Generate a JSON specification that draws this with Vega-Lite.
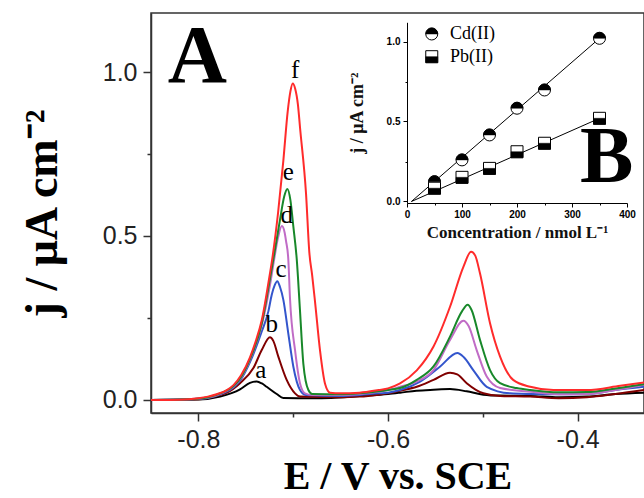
{
  "$schema": "https://vega.github.io/schema/vega-lite/v6.json",
  "width": 493,
  "height": 400,
  "autosize": "none",
  "padding": {"left": 151, "top": 13, "right": 0, "bottom": 85},
  "background": "white",
  "config": {"view": {"stroke": "#333333", "strokeWidth": 1.5}},
  "datasets": {
    "curves": [
      {"s":"a","E":-0.85,"j":0.0},{"s":"a","E":-0.80,"j":0.001},{"s":"a","E":-0.777,"j":0.01},{"s":"a","E":-0.7561,"j":0.032},{"s":"a","E":-0.7456,"j":0.052},{"s":"a","E":-0.7385,"j":0.056},{"s":"a","E":-0.733,"j":0.05},{"s":"a","E":-0.728,"j":0.04},{"s":"a","E":-0.7174,"j":0.018},{"s":"a","E":-0.7104,"j":0.006},{"s":"a","E":-0.68,"j":0.005},{"s":"a","E":-0.66,"j":0.006},{"s":"a","E":-0.63,"j":0.012},{"s":"a","E":-0.6,"j":0.018},{"s":"a","E":-0.5873,"j":0.022},{"s":"a","E":-0.57,"j":0.028},{"s":"a","E":-0.552,"j":0.031},{"s":"a","E":-0.5346,"j":0.033},{"s":"a","E":-0.517,"j":0.026},{"s":"a","E":-0.4994,"j":0.016},{"s":"a","E":-0.4818,"j":0.013},{"s":"a","E":-0.45,"j":0.012},{"s":"a","E":-0.42,"j":0.008},{"s":"a","E":-0.39,"j":0.01},{"s":"a","E":-0.36,"j":0.018},{"s":"a","E":-0.33,"j":0.022},
      {"s":"b","E":-0.85,"j":0.0},{"s":"b","E":-0.80,"j":0.002},{"s":"b","E":-0.7772,"j":0.015},{"s":"b","E":-0.77,"j":0.022},{"s":"b","E":-0.7561,"j":0.051},{"s":"b","E":-0.742,"j":0.097},{"s":"b","E":-0.7332,"j":0.152},{"s":"b","E":-0.7245,"j":0.191},{"s":"b","E":-0.721,"j":0.18},{"s":"b","E":-0.7157,"j":0.132},{"s":"b","E":-0.7069,"j":0.061},{"s":"b","E":-0.6981,"j":0.02},{"s":"b","E":-0.6928,"j":0.01},{"s":"b","E":-0.65,"j":0.008},{"s":"b","E":-0.63,"j":0.01},{"s":"b","E":-0.61,"j":0.016},{"s":"b","E":-0.6,"j":0.02},{"s":"b","E":-0.5873,"j":0.028},{"s":"b","E":-0.5697,"j":0.04},{"s":"b","E":-0.552,"j":0.061},{"s":"b","E":-0.5346,"j":0.083},{"s":"b","E":-0.527,"j":0.078},{"s":"b","E":-0.517,"j":0.051},{"s":"b","E":-0.4994,"j":0.02},{"s":"b","E":-0.4818,"j":0.012},{"s":"b","E":-0.45,"j":0.01},{"s":"b","E":-0.42,"j":0.005},{"s":"b","E":-0.39,"j":0.008},{"s":"b","E":-0.36,"j":0.018},{"s":"b","E":-0.33,"j":0.03},
      {"s":"c","E":-0.85,"j":0.0},{"s":"c","E":-0.81,"j":0.002},{"s":"c","E":-0.79,"j":0.006},{"s":"c","E":-0.775,"j":0.019},{"s":"c","E":-0.763,"j":0.038},{"s":"c","E":-0.755,"j":0.063},{"s":"c","E":-0.7456,"j":0.115},{"s":"c","E":-0.733,"j":0.21},{"s":"c","E":-0.7262,"j":0.27},{"s":"c","E":-0.7227,"j":0.32},{"s":"c","E":-0.7195,"j":0.35},{"s":"c","E":-0.7168,"j":0.362},{"s":"c","E":-0.714,"j":0.345},{"s":"c","E":-0.7104,"j":0.305},{"s":"c","E":-0.7052,"j":0.203},{"s":"c","E":-0.6999,"j":0.102},{"s":"c","E":-0.6928,"j":0.03},{"s":"c","E":-0.6867,"j":0.015},{"s":"c","E":-0.65,"j":0.012},{"s":"c","E":-0.63,"j":0.015},{"s":"c","E":-0.61,"j":0.02},{"s":"c","E":-0.6,"j":0.022},{"s":"c","E":-0.5873,"j":0.03},{"s":"c","E":-0.5662,"j":0.056},{"s":"c","E":-0.545,"j":0.102},{"s":"c","E":-0.5269,"j":0.143},{"s":"c","E":-0.52,"j":0.13},{"s":"c","E":-0.5101,"j":0.091},{"s":"c","E":-0.4959,"j":0.04},{"s":"c","E":-0.4712,"j":0.02},{"s":"c","E":-0.45,"j":0.018},{"s":"c","E":-0.42,"j":0.017},{"s":"c","E":-0.39,"j":0.018},{"s":"c","E":-0.36,"j":0.03},{"s":"c","E":-0.33,"j":0.04},
      {"s":"d","E":-0.85,"j":0.0},{"s":"d","E":-0.81,"j":0.002},{"s":"d","E":-0.79,"j":0.007},{"s":"d","E":-0.775,"j":0.021},{"s":"d","E":-0.763,"j":0.041},{"s":"d","E":-0.755,"j":0.068},{"s":"d","E":-0.7456,"j":0.122},{"s":"d","E":-0.733,"j":0.23},{"s":"d","E":-0.7245,"j":0.35},{"s":"d","E":-0.72,"j":0.43},{"s":"d","E":-0.716,"j":0.495},{"s":"d","E":-0.712,"j":0.53},{"s":"d","E":-0.709,"j":0.51},{"s":"d","E":-0.7076,"j":0.485},{"s":"d","E":-0.7052,"j":0.43},{"s":"d","E":-0.7034,"j":0.31},{"s":"d","E":-0.698,"j":0.15},{"s":"d","E":-0.6928,"j":0.05},{"s":"d","E":-0.6876,"j":0.02},{"s":"d","E":-0.68,"j":0.015},{"s":"d","E":-0.65,"j":0.015},{"s":"d","E":-0.63,"j":0.018},{"s":"d","E":-0.61,"j":0.025},{"s":"d","E":-0.6,"j":0.03},{"s":"d","E":-0.5873,"j":0.04},{"s":"d","E":-0.5697,"j":0.056},{"s":"d","E":-0.552,"j":0.091},{"s":"d","E":-0.5346,"j":0.183},{"s":"d","E":-0.5205,"j":0.241},{"s":"d","E":-0.515,"j":0.225},{"s":"d","E":-0.5065,"j":0.152},{"s":"d","E":-0.4959,"j":0.071},{"s":"d","E":-0.4818,"j":0.036},{"s":"d","E":-0.45,"j":0.025},{"s":"d","E":-0.42,"j":0.017},{"s":"d","E":-0.39,"j":0.018},{"s":"d","E":-0.36,"j":0.03},{"s":"d","E":-0.33,"j":0.046},
      {"s":"e","E":-0.85,"j":0.0},{"s":"e","E":-0.81,"j":0.002},{"s":"e","E":-0.79,"j":0.008},{"s":"e","E":-0.775,"j":0.022},{"s":"e","E":-0.763,"j":0.042},{"s":"e","E":-0.755,"j":0.07},{"s":"e","E":-0.7456,"j":0.125},{"s":"e","E":-0.733,"j":0.235},{"s":"e","E":-0.7245,"j":0.37},{"s":"e","E":-0.7203,"j":0.44},{"s":"e","E":-0.7139,"j":0.55},{"s":"e","E":-0.7095,"j":0.62},{"s":"e","E":-0.7062,"j":0.643},{"s":"e","E":-0.703,"j":0.61},{"s":"e","E":-0.6999,"j":0.53},{"s":"e","E":-0.6963,"j":0.43},{"s":"e","E":-0.6928,"j":0.27},{"s":"e","E":-0.6893,"j":0.11},{"s":"e","E":-0.684,"j":0.03},{"s":"e","E":-0.68,"j":0.018},{"s":"e","E":-0.65,"j":0.017},{"s":"e","E":-0.63,"j":0.02},{"s":"e","E":-0.61,"j":0.026},{"s":"e","E":-0.6,"j":0.03},{"s":"e","E":-0.5873,"j":0.036},{"s":"e","E":-0.5697,"j":0.061},{"s":"e","E":-0.552,"j":0.102},{"s":"e","E":-0.5346,"j":0.193},{"s":"e","E":-0.522,"j":0.27},{"s":"e","E":-0.516,"j":0.29},{"s":"e","E":-0.512,"j":0.275},{"s":"e","E":-0.503,"j":0.183},{"s":"e","E":-0.4924,"j":0.091},{"s":"e","E":-0.4818,"j":0.051},{"s":"e","E":-0.4642,"j":0.036},{"s":"e","E":-0.45,"j":0.03},{"s":"e","E":-0.42,"j":0.023},{"s":"e","E":-0.39,"j":0.024},{"s":"e","E":-0.36,"j":0.035},{"s":"e","E":-0.33,"j":0.048},
      {"s":"f","E":-0.85,"j":0.0},{"s":"f","E":-0.83,"j":0.0},{"s":"f","E":-0.81,"j":0.002},{"s":"f","E":-0.80,"j":0.005},{"s":"f","E":-0.79,"j":0.01},{"s":"f","E":-0.78,"j":0.018},{"s":"f","E":-0.77,"j":0.03},{"s":"f","E":-0.763,"j":0.045},{"s":"f","E":-0.755,"j":0.075},{"s":"f","E":-0.7456,"j":0.13},{"s":"f","E":-0.74,"j":0.175},{"s":"f","E":-0.733,"j":0.245},{"s":"f","E":-0.726,"j":0.36},{"s":"f","E":-0.7216,"j":0.44},{"s":"f","E":-0.716,"j":0.57},{"s":"f","E":-0.7104,"j":0.73},{"s":"f","E":-0.7058,"j":0.88},{"s":"f","E":-0.703,"j":0.94},{"s":"f","E":-0.7005,"j":0.965},{"s":"f","E":-0.698,"j":0.95},{"s":"f","E":-0.695,"j":0.9},{"s":"f","E":-0.6928,"j":0.83},{"s":"f","E":-0.6865,"j":0.63},{"s":"f","E":-0.683,"j":0.45},{"s":"f","E":-0.68,"j":0.38},{"s":"f","E":-0.677,"j":0.3},{"s":"f","E":-0.6717,"j":0.15},{"s":"f","E":-0.6665,"j":0.05},{"s":"f","E":-0.6612,"j":0.022},{"s":"f","E":-0.65,"j":0.02},{"s":"f","E":-0.63,"j":0.022},{"s":"f","E":-0.61,"j":0.03},{"s":"f","E":-0.6,"j":0.035},{"s":"f","E":-0.5873,"j":0.05},{"s":"f","E":-0.5697,"j":0.09},{"s":"f","E":-0.56,"j":0.125},{"s":"f","E":-0.552,"j":0.163},{"s":"f","E":-0.5346,"j":0.284},{"s":"f","E":-0.5205,"j":0.406},{"s":"f","E":-0.5124,"j":0.452},{"s":"f","E":-0.508,"j":0.44},{"s":"f","E":-0.503,"j":0.386},{"s":"f","E":-0.4924,"j":0.234},{"s":"f","E":-0.4818,"j":0.132},{"s":"f","E":-0.468,"j":0.061},{"s":"f","E":-0.45,"j":0.04},{"s":"f","E":-0.4256,"j":0.03},{"s":"f","E":-0.3904,"j":0.03},{"s":"f","E":-0.355,"j":0.043},{"s":"f","E":-0.33,"j":0.053}
    ],
    "curveLabels": [
      {"E":-0.7343,"j":0.066,"t":"a"},{"E":-0.7227,"j":0.208,"t":"b"},{"E":-0.7129,"j":0.376,"t":"c"},{"E":-0.7069,"j":0.54,"t":"d"},{"E":-0.7052,"j":0.671,"t":"e"},{"E":-0.698,"j":0.982,"t":"f"}
    ],
    "panelA": [{"E":-0.801,"j":0.9695,"t":"A"}],
    "fits": [
      {"g":"Cd","c":8,"v":0.0},{"g":"Cd","c":350,"v":1.02},
      {"g":"Pb","c":8,"v":0.0},{"g":"Pb","c":350,"v":0.52}
    ],
    "pts": [
      {"g":"Cd","c":50,"v":0.124},{"g":"Cd","c":100,"v":0.26},{"g":"Cd","c":150,"v":0.416},{"g":"Cd","c":200,"v":0.583},{"g":"Cd","c":250,"v":0.697},{"g":"Cd","c":350,"v":1.02},{"g":"Cd","c":45,"v":1.047},
      {"g":"Pb","c":50,"v":0.083},{"g":"Pb","c":100,"v":0.151},{"g":"Pb","c":150,"v":0.207},{"g":"Pb","c":200,"v":0.311},{"g":"Pb","c":250,"v":0.364},{"g":"Pb","c":350,"v":0.52},{"g":"Pb","c":45,"v":0.905}
    ],
    "legendText": [{"c":78,"v":1.047,"t":"Cd(II)"},{"c":78,"v":0.905,"t":"Pb(II)"}],
    "panelB": [{"c":363,"v":0.124,"t":"B"}]
  },
  "layer": [
    {
      "encoding": {
        "x": {"field": "E", "type": "quantitative",
          "scale": {"domain": [-0.85, -0.33], "nice": false, "zero": false},
          "axis": {"orient": "bottom", "values": [-0.8, -0.7, -0.6, -0.5, -0.4],
            "labelExpr": "abs(round(datum.value*10))%2==0 ? replace(format(datum.value,'.1f'),'\u2212','-') : ''",
            "tickSize": {"condition": {"test": "abs(round(datum.value*10))%2==0", "value": 8}, "value": 4},
            "grid": false, "domainColor": "#333333", "domainWidth": 1.5, "tickColor": "#333333", "tickWidth": 1.5,
            "labelFont": "Liberation Sans", "labelFontSize": 25, "labelColor": "#222222", "labelPadding": 6,
            "labelFlush": false, "labelOverlap": false,
            "title": "E / V vs. SCE", "titleFont": "Liberation Serif", "titleFontSize": 40, "titleFontWeight": "bold", "titleColor": "#000000", "titlePadding": 4}},
        "y": {"field": "j", "type": "quantitative",
          "scale": {"domain": [-0.04, 1.18], "nice": false, "zero": false},
          "axis": {"orient": "left", "values": [0, 0.25, 0.5, 0.75, 1.0],
            "labelExpr": "round(datum.value*4)%2==0 ? format(datum.value,'.1f') : ''",
            "tickSize": {"condition": {"test": "round(datum.value*4)%2==0", "value": 8}, "value": 4},
            "grid": false, "domainColor": "#333333", "domainWidth": 1.5, "tickColor": "#333333", "tickWidth": 1.5,
            "labelFont": "Liberation Sans", "labelFontSize": 25, "labelColor": "#222222", "labelPadding": 6,
            "labelFlush": false, "labelOverlap": false,
            "title": "j / μA cm⁻²", "titleFont": "Liberation Serif", "titleFontSize": 46, "titleFontWeight": "bold", "titleColor": "#000000", "titlePadding": 36}}
      },
      "layer": [
        {"data": {"name": "curves"},
         "mark": {"type": "line", "interpolate": "monotone", "strokeWidth": 2, "clip": true},
         "encoding": {"color": {"field": "s", "type": "nominal", "legend": null,
            "scale": {"domain": ["a","b","c","d","e","f"], "range": ["#000000","#800000","#3355cc","#c06cc6","#18882a","#ff2b2b"]}}}},
        {"data": {"name": "curveLabels"},
         "mark": {"type": "text", "font": "Liberation Serif", "fontSize": 25, "align": "center", "baseline": "alphabetic", "color": "#000000"},
         "encoding": {"text": {"field": "t"}}},
        {"data": {"name": "panelA"},
         "mark": {"type": "text", "font": "Liberation Serif", "fontSize": 82, "fontWeight": "bold", "align": "center", "baseline": "alphabetic", "color": "#000000"},
         "encoding": {"text": {"field": "t"}}}
      ]
    },
    {
      "encoding": {
        "x": {"field": "c", "type": "quantitative",
          "scale": {"domain": [0, 400], "range": [256, 476], "nice": false, "zero": false},
          "axis": {"orient": "bottom", "offset": -210, "values": [0,50,100,150,200,250,300,350,400],
            "labelExpr": "datum.value % 100 == 0 ? datum.label : ''",
            "tickSize": {"condition": {"test": "datum.value % 100 == 0", "value": 4}, "value": 2},
            "grid": false, "domainColor": "#000000", "domainWidth": 1, "tickColor": "#000000", "tickWidth": 1,
            "labelFont": "Liberation Sans", "labelFontWeight": "bold", "labelFontSize": 10, "labelColor": "#000000", "labelPadding": 2,
            "labelFlush": false, "labelOverlap": false,
            "title": "Concentration / nmol L⁻¹", "titleFont": "Liberation Serif", "titleFontSize": 17, "titleFontWeight": "bold", "titleColor": "#111111", "titlePadding": 5}},
        "y": {"field": "v", "type": "quantitative",
          "scale": {"domain": [-0.01, 1.12], "range": [190.1, 9.3], "nice": false, "zero": false},
          "axis": {"orient": "left", "offset": -256, "values": [0, 0.25, 0.5, 0.75, 1.0],
            "labelExpr": "round(datum.value*4)%2==0 ? format(datum.value,'.1f') : ''",
            "tickSize": {"condition": {"test": "round(datum.value*4)%2==0", "value": 4}, "value": 2},
            "grid": false, "domainColor": "#000000", "domainWidth": 1, "tickColor": "#000000", "tickWidth": 1,
            "labelFont": "Liberation Sans", "labelFontWeight": "bold", "labelFontSize": 10, "labelColor": "#000000", "labelPadding": 3,
            "labelFlush": false, "labelOverlap": false,
            "title": "j / μA cm⁻²", "titleFont": "Liberation Serif", "titleFontSize": 18, "titleFontWeight": "bold", "titleColor": "#111111", "titlePadding": 20}}
      },
      "layer": [
        {"data": {"name": "fits"},
         "mark": {"type": "line", "color": "#000000", "strokeWidth": 1, "clip": false},
         "encoding": {"detail": {"field": "g"}}},
        {"data": {"name": "pts"}, "transform": [{"filter": "datum.g == 'Cd'"}],
         "mark": {"type": "point", "shape": "circle", "size": 144, "filled": true, "fill": "#ffffff", "stroke": "#000000", "strokeWidth": 1, "opacity": 1}},
        {"data": {"name": "pts"}, "transform": [{"filter": "datum.g == 'Cd'"}],
         "mark": {"type": "point", "shape": "M -1 0 A 1 1 0 0 1 1 0 Z", "size": 144, "filled": true, "fill": "#000000", "stroke": "#000000", "strokeWidth": 0.5, "opacity": 1}},
        {"data": {"name": "pts"}, "transform": [{"filter": "datum.g == 'Pb'"}],
         "mark": {"type": "point", "shape": "square", "size": 144, "filled": true, "fill": "#ffffff", "stroke": "#000000", "strokeWidth": 1, "opacity": 1}},
        {"data": {"name": "pts"}, "transform": [{"filter": "datum.g == 'Pb'"}],
         "mark": {"type": "point", "shape": "M -1 0 L 1 0 L 1 1 L -1 1 Z", "size": 144, "filled": true, "fill": "#000000", "stroke": "#000000", "strokeWidth": 0.5, "opacity": 1}},
        {"data": {"name": "legendText"},
         "mark": {"type": "text", "font": "Liberation Serif", "fontSize": 18, "align": "left", "baseline": "middle", "color": "#000000"},
         "encoding": {"text": {"field": "t"}}},
        {"data": {"name": "panelB"},
         "mark": {"type": "text", "font": "Liberation Serif", "fontSize": 80, "fontWeight": "bold", "align": "center", "baseline": "alphabetic", "color": "#000000"},
         "encoding": {"text": {"field": "t"}}}
      ]
    }
  ],
  "resolve": {"scale": {"x": "independent", "y": "independent"}, "axis": {"x": "independent", "y": "independent"}}
}
